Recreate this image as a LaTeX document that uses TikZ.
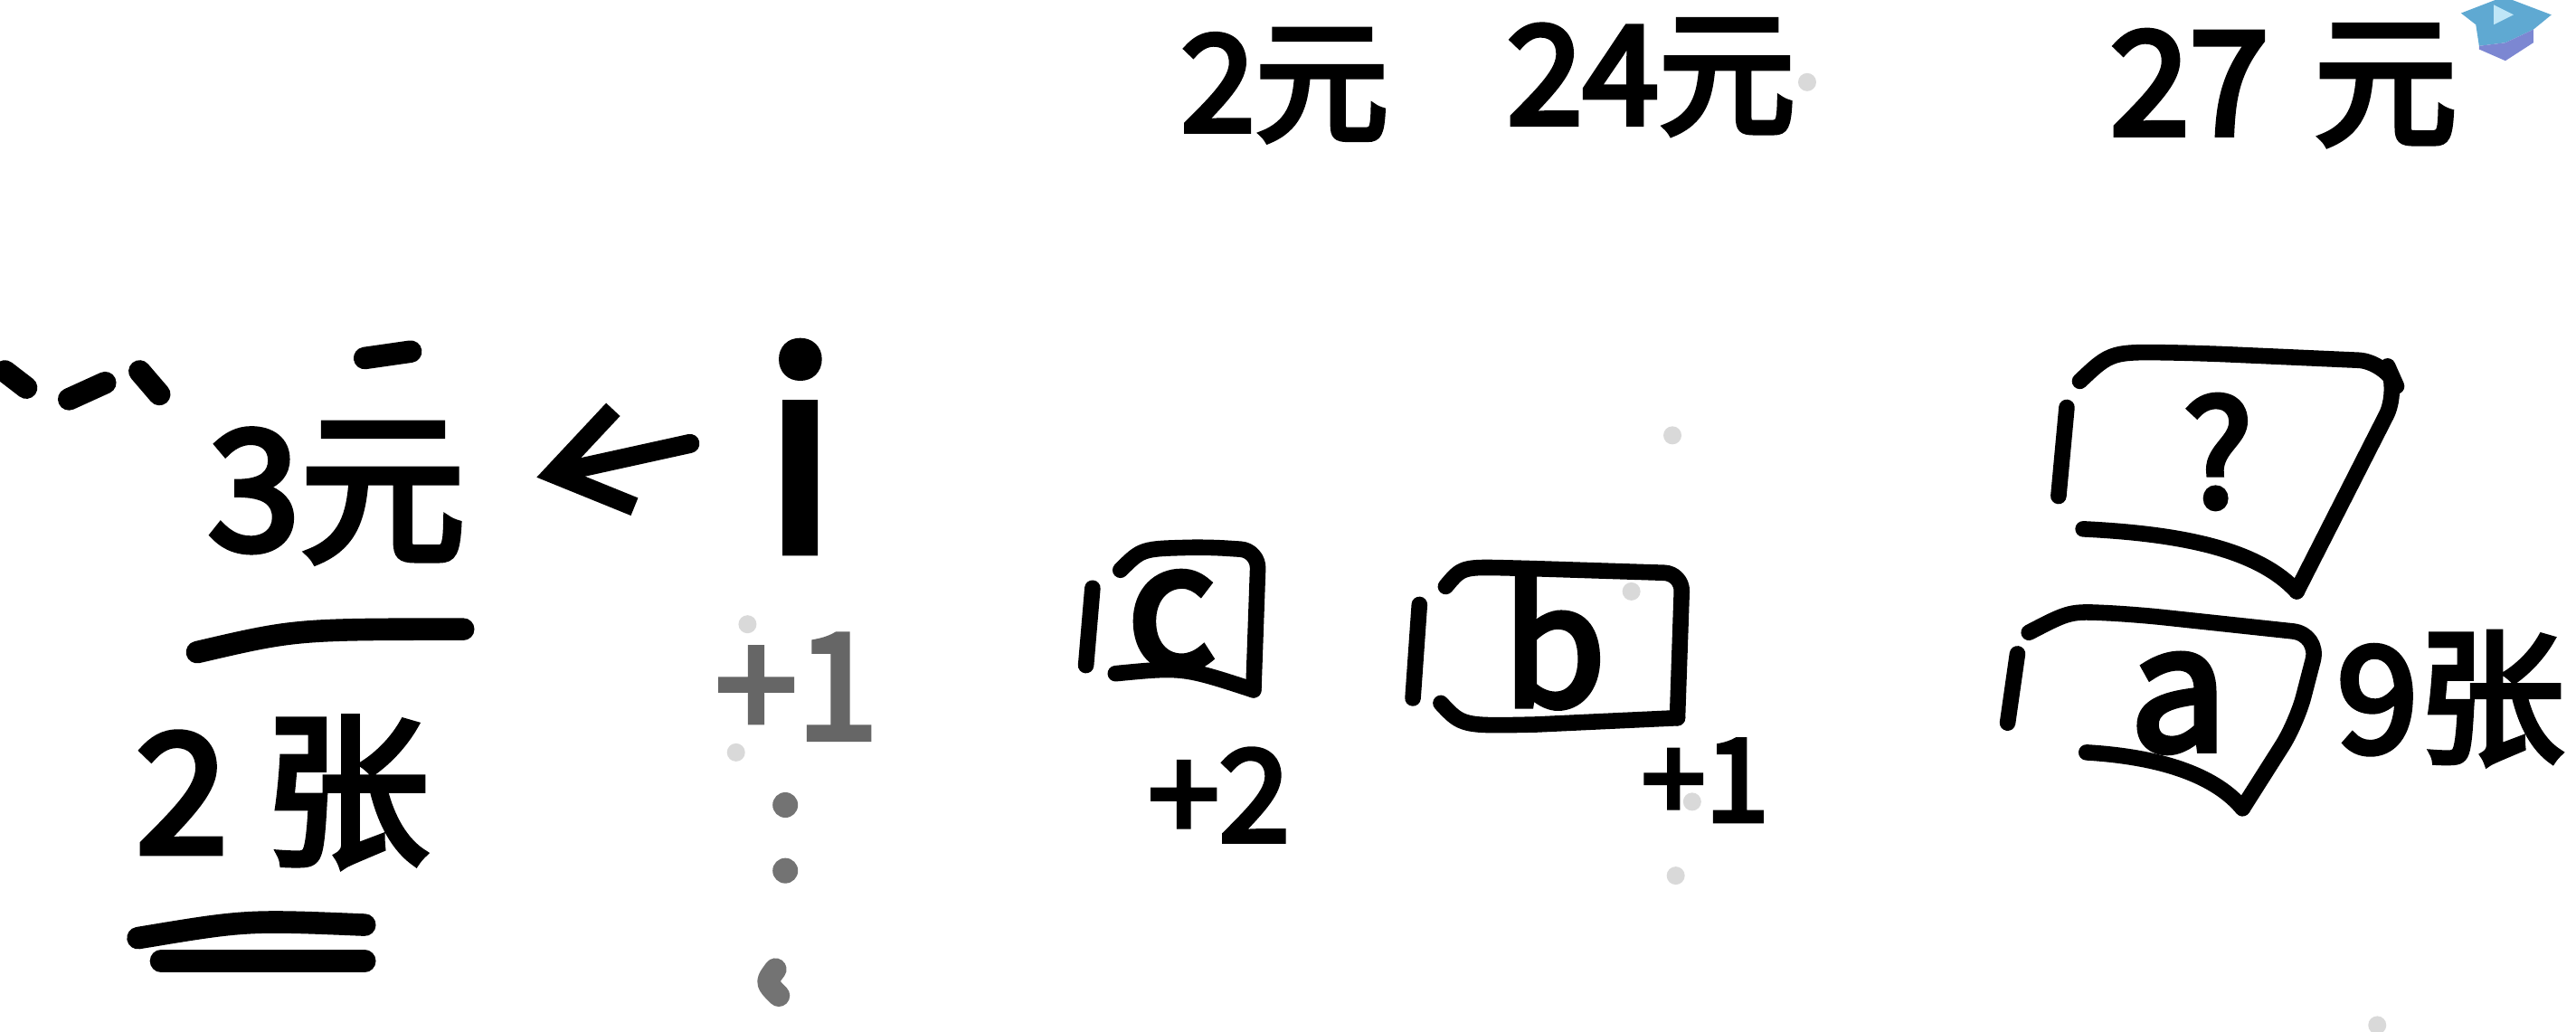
\documentclass[tikz,border=0pt]{standalone}
\usepackage{fontspec}
\newfontfamily\hand{Noto Sans CJK SC}[FakeBold=4]
\usepackage{xcolor}
\usepackage{tikz}
\usetikzlibrary{arrows.meta, positioning}
\definecolor{logoblue}{HTML}{5FA9D2}
\definecolor{logopurple}{HTML}{7C87D2}
\definecolor{logoplay}{HTML}{BFE6F7}
\tikzstyle{ink} = [line width=7pt, line cap=round, line join=round]
\tikzstyle{boxink} = [line width=5pt, line cap=round, line join=round]
\tikzstyle{arrowink} = [ink, line width=6pt, -{Straight Barb[length=8mm, width=11mm, line width=6pt]}]
\tikzset{word/.style={font=\hand\fontsize{#1}{#1}\selectfont, inner sep=0pt}}

\begin{document}
\begin{tikzpicture}
    [x=0.1816mm, y=-0.1816mm, every node/.style={inner sep=0pt}]
    \useasboundingbox (0,0) rectangle (1568,628);
    % prices on top
    \node[word=42pt] (p2) at (782,52) {2元};
    \node[word=43pt] (p24) at (1005,47) {24元};
    \node[word=45pt] (p27) at (1390,52) {27\hspace{5mm}元};
    % left column
    \node[word=52pt] (p3) at (205,300) {3元};
    \node[word=52pt] (n2) at (172,482) {2\hspace{4mm}张};
    \draw[ink] (120,397) .. controls (180,383) .. (282,383);
    \draw[ink] (84,571) .. controls (150,560) .. (222,563);
    \draw[ink] (98,585) -- (222,585);
    % the i and its steps
    \node[word=84pt] (i) at (487,272) {i};
    \coordinate (tail) at (420,270);
    \draw[arrowink, shorten >=8mm] (tail) -- (p3.east);
    \node[word=46pt, text=black!60] (inc) at (485,418) {+1};
    \foreach \x/\y in {478/490, 478/530}
        \node[circle, fill=black!55, minimum size=2.8mm] at (\x,\y) {};
    \draw[ink, black!55] (472,590) .. controls (466,598) .. (474,606);
    % boxes c and b
    \node[word=54pt] (c) at (713,378) {c};
    \draw[boxink] (665,358) -- (661,405);
    \draw[boxink, rounded corners=2mm] (682,347) .. controls (695,334) .. (735,333) -- (766,335) -- (763,420);
    \draw[boxink] (679,410) .. controls (720,406) .. (763,420);
    \node[word=40pt] (c2) at (742,484) {+2};
    \node[word=52pt] (b) at (946,390) {b};
    \draw[boxink] (864,368) -- (860,425);
    \draw[boxink, rounded corners=2mm] (880,357) .. controls (890,345) .. (930,346) -- (1024,349) -- (1021,437);
    \draw[boxink] (877,428) .. controls (890,442) .. (935,441) -- (1021,437);
    \node[word=36pt] (b1) at (1038,475) {+1};
    % the ? card and the a card
    \node[word=46pt] (q) at (1350,275) {?};
    \draw[boxink] (1258,248) -- (1253,302);
    \draw[boxink, rounded corners=3mm] (1266,232) .. controls (1285,214) .. (1340,215) -- (1452,220) -- (1460,238) -- (1398,360);
    \draw[boxink] (1268,322) .. controls (1330,325) and (1375,335) .. (1398,360);
    \node[word=54pt] (a) at (1326,428) {a};
    \draw[boxink] (1228,398) -- (1222,440);
    \draw[boxink, rounded corners=3mm] (1235,385) .. controls (1260,372) .. (1300,374) -- (1412,386) -- (1398,440) -- (1365,492);
    \draw[boxink] (1270,458) .. controls (1320,461) and (1350,474) .. (1365,492);
    \node[word=46pt, anchor=west] (n9) at (1422,425) {9张};
    % cut off strokes at the left edge
    \draw[ink] (3,226) -- (16,236);
    \draw[ink] (42,243) -- (64,233);
    \draw[ink] (85,226) -- (97,240);
    \draw[ink] (222,218) -- (250,214);
    % specks
    \foreach \x/\y in {455/380, 448/458, 1100/50, 1018/265, 993/360, 1030/488, 1020/533, 1447/624}
        \node[circle, fill=black!15, minimum size=2mm] at (\x,\y) {};
    % logo
    \fill[logoblue] (1498,8) -- (1524,-2) -- (1553,9) -- (1542,18) -- (1525,26) -- (1509,28) -- (1507,15) -- cycle;
    \fill[logopurple] (1509,28) -- (1525,26) -- (1542,18) -- (1542,26) -- (1525,37) -- (1509,30) -- cycle;
    \fill[logoplay] (1518,3) -- (1530,9) -- (1518,15) -- cycle;
\end{tikzpicture}
\end{document}
